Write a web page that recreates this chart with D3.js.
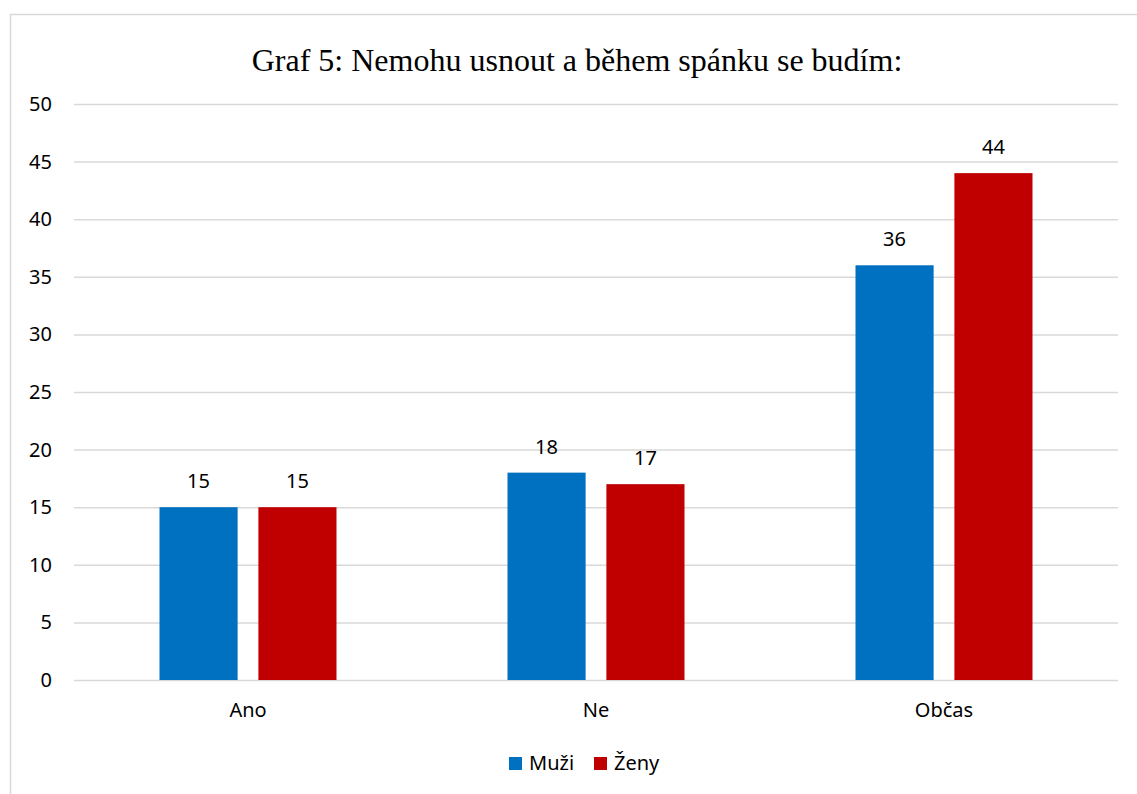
<!DOCTYPE html>
<html>
<head>
<meta charset="utf-8">
<script src="https://cdn.jsdelivr.net/npm/d3@7"></script>
<style>
  body { margin: 0; background: #fff; }
  svg { display: block; }
</style>
</head>
<body>
<svg id="chart" width="1137" height="794"></svg>
<script>
// data
const categories = ["Ano", "Ne", "Občas"];
const seriesNames = ["Muži", "Ženy"];
const muzi = [15, 18, 36];
const zeny = [15, 17, 44];
const yTicks = [0, 5, 10, 15, 20, 25, 30, 35, 40, 45, 50];
const title = "Graf 5: Nemohu usnout a během spánku se budím:";

const COLORS = { "Muži": "#0070c0", "Ženy": "#c00000" };
const labelFont = "'Noto Sans', 'Open Sans', sans-serif";
const labelSize = "20px";

const svg = d3.select("#chart");
const margin = { top: 104, left: 74, right: 19, bottom: 114 };
const width = 1137 - margin.left - margin.right;
const height = 794 - margin.top - margin.bottom;

// chart frame (right and bottom edges fall outside the picture)
svg.append("rect")
    .attr("x", 10.5).attr("y", 14.5)
    .attr("width", 1140).attr("height", 800)
    .style("fill", "none")
    .style("stroke", "#d9d9d9")
    .style("stroke-width", 1.5);

svg.append("text")
    .attr("x", 577).attr("y", 71)
    .attr("text-anchor", "middle")
    .style("font-family", "'Liberation Serif', 'Times New Roman', serif")
    .style("font-size", "32px")
    .style("fill", "#000")
    .text(title);

const g = svg.append("g")
    .attr("transform", `translate(${margin.left},${margin.top})`);

const x = d3.scaleBand()
    .domain(categories)
    .range([0, width]);

const x1 = d3.scaleBand()
    .domain(seriesNames)
    .range([0, 177])
    .paddingInner(0.21);

const y = d3.scaleLinear()
    .domain([0, 50])
    .range([height, 0]);

// gridlines + y labels
const yAxis = g.append("g")
    .call(d3.axisLeft(y).tickValues(yTicks).tickSize(-width).tickPadding(22));
yAxis.select("path.domain").remove();
yAxis.selectAll(".tick line")
    .style("stroke", "#d9d9d9")
    .style("stroke-width", 1.5);
yAxis.selectAll(".tick text")
    .style("font-family", labelFont)
    .style("font-size", labelSize)
    .style("fill", "#000");

// x labels
const xAxis = g.append("g")
    .attr("transform", `translate(0,${height})`)
    .call(d3.axisBottom(x).tickSize(0).tickPadding(23));
xAxis.select("path.domain").remove();
xAxis.selectAll(".tick text")
    .style("font-family", labelFont)
    .style("font-size", labelSize)
    .style("fill", "#000");

const rows = categories.map((c, i) => ({
    cat: c,
    vals: [{ s: "Muži", v: muzi[i] }, { s: "Ženy", v: zeny[i] }]
}));

const groups = g.selectAll(".grp")
    .data(rows)
    .enter()
    .append("g")
    .attr("class", "grp")
    .attr("transform", d => `translate(${x(d.cat) + x.bandwidth() / 2 - 88.5},0)`);

groups.selectAll("rect")
    .data(d => d.vals)
    .enter()
    .append("rect")
    .attr("x", d => x1(d.s))
    .attr("y", d => y(d.v))
    .attr("width", x1.bandwidth())
    .attr("height", d => height - y(d.v))
    .style("fill", d => COLORS[d.s]);

groups.selectAll("text.val")
    .data(d => d.vals)
    .enter()
    .append("text")
    .attr("class", "val")
    .attr("x", d => x1(d.s) + x1.bandwidth() / 2)
    .attr("y", d => y(d.v) - 19)
    .attr("text-anchor", "middle")
    .style("font-family", labelFont)
    .style("font-size", labelSize)
    .style("fill", "#000")
    .text(d => d.v);

// legend
const legend = svg.append("g").attr("transform", "translate(509,757)");
const legendX = [0, 85];
seriesNames.forEach((s, i) => {
    const lg = legend.append("g").attr("transform", `translate(${legendX[i]},0)`);
    lg.append("rect")
        .attr("width", 13).attr("height", 13)
        .style("fill", COLORS[s]);
    lg.append("text")
        .attr("x", 20).attr("y", 13)
        .style("font-family", labelFont)
        .style("font-size", labelSize)
        .style("fill", "#000")
        .text(s);
});
</script>
</body>
</html>
